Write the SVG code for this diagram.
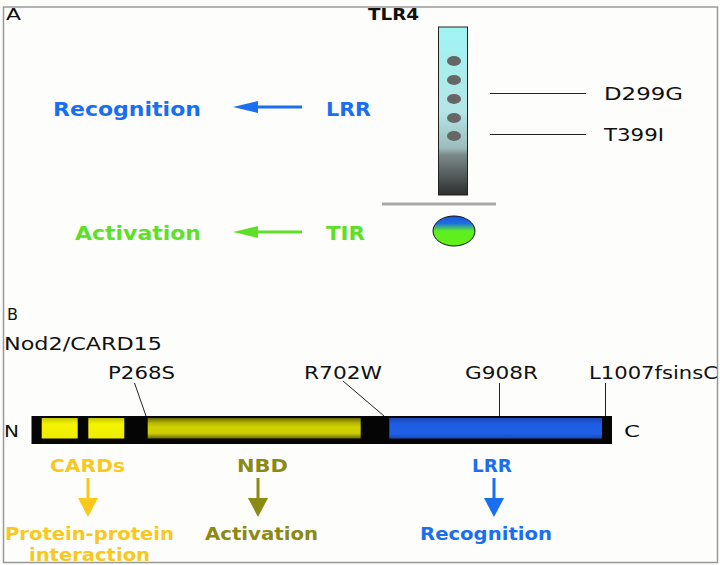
<svg xmlns="http://www.w3.org/2000/svg" width="720" height="565" viewBox="0 0 720 565">
<defs>
<style>
.t{font-family:"DejaVu Sans","Liberation Sans",sans-serif;fill:#111}
.b{font-family:"DejaVu Sans","Liberation Sans",sans-serif;font-weight:bold}
.lead{stroke:#222;stroke-width:1;fill:none}
.blue{fill:#1a6ef0}
.green{fill:#5ee02a}
.gold{fill:#f8c81c}
.olive{fill:#8a8a14}
</style>
<linearGradient id="col" x1="0" y1="0" x2="0" y2="1">
<stop offset="0" stop-color="#a0f4f4"/>
<stop offset="0.5" stop-color="#b4e6e6"/>
<stop offset="0.72" stop-color="#9cbcbc"/>
<stop offset="0.76" stop-color="#7c8a8a"/>
<stop offset="1" stop-color="#2e2e2e"/>
</linearGradient>
<linearGradient id="tir" x1="0" y1="0" x2="0" y2="1">
<stop offset="0" stop-color="#1a55e0"/>
<stop offset="0.25" stop-color="#1c70e0"/>
<stop offset="0.5" stop-color="#5cf020"/>
<stop offset="1" stop-color="#62f018"/>
</linearGradient>
<linearGradient id="nbd" x1="0" y1="0" x2="0" y2="1">
<stop offset="0" stop-color="#6a6a00"/>
<stop offset="0.25" stop-color="#b8b800"/>
<stop offset="0.45" stop-color="#d2d200"/>
<stop offset="0.75" stop-color="#cccc00"/>
<stop offset="1" stop-color="#6a6a00"/>
</linearGradient>
<linearGradient id="card" x1="0" y1="0" x2="0" y2="1">
<stop offset="0" stop-color="#c8c800"/>
<stop offset="0.3" stop-color="#f4f400"/>
<stop offset="1" stop-color="#ecec00"/>
</linearGradient>
<linearGradient id="lrr" x1="0" y1="0" x2="0" y2="1">
<stop offset="0" stop-color="#1a48b8"/>
<stop offset="0.35" stop-color="#1f5fe6"/>
<stop offset="0.75" stop-color="#1f5fe6"/>
<stop offset="1" stop-color="#1a4ab8"/>
</linearGradient>
<marker id="ahBlue" markerUnits="userSpaceOnUse" viewBox="0 0 25 12" markerWidth="25" markerHeight="12" refX="0" refY="6" orient="auto"><path d="M0,0L25,6L0,12z" fill="#1a6ef0"/></marker>
<marker id="ahGreen" markerUnits="userSpaceOnUse" viewBox="0 0 25 12" markerWidth="25" markerHeight="12" refX="0" refY="6" orient="auto"><path d="M0,0L25,6L0,12z" fill="#5ee02a"/></marker>
<marker id="dGold" markerUnits="userSpaceOnUse" viewBox="0 0 19 20" markerWidth="19" markerHeight="20" refX="0" refY="10" orient="auto"><path d="M0,0L19,10L0,20z" fill="#f8c81c"/></marker>
<marker id="dOlive" markerUnits="userSpaceOnUse" viewBox="0 0 19 20" markerWidth="19" markerHeight="20" refX="0" refY="10" orient="auto"><path d="M0,0L19,10L0,20z" fill="#8a8a14"/></marker>
<marker id="dBlue" markerUnits="userSpaceOnUse" viewBox="0 0 19 20" markerWidth="19" markerHeight="20" refX="0" refY="10" orient="auto"><path d="M0,0L19,10L0,20z" fill="#1a6ef0"/></marker>
</defs>
<rect x="0" y="0" width="720" height="565" fill="#fdfdfb"/>
<rect x="3.5" y="7" width="714" height="555.5" fill="none" stroke="#999" stroke-width="1.5"/>

<g id="panelA">
<text class="t" x="6" y="20" font-size="16" textLength="15" lengthAdjust="spacingAndGlyphs">A</text>
<g id="tlr4">
<text class="b" x="368" y="20" font-size="16" fill="#111" textLength="51" lengthAdjust="spacingAndGlyphs">TLR4</text>
<rect x="438.5" y="27" width="29" height="168" fill="url(#col)" stroke="#222" stroke-width="1"/>
<g fill="#666">
<ellipse cx="454" cy="61" rx="7" ry="5"/>
<ellipse cx="454" cy="80" rx="7" ry="5"/>
<ellipse cx="454" cy="99" rx="7" ry="5"/>
<ellipse cx="454" cy="118" rx="7" ry="5"/>
<ellipse cx="454" cy="136" rx="7" ry="5"/>
</g>
<line x1="382" y1="204" x2="496" y2="204" stroke="#aaa" stroke-width="3"/>
</g>
<g id="tir-domain">
<ellipse cx="454" cy="231" rx="21" ry="15" fill="url(#tir)" stroke="#111" stroke-width="1"/>
</g>
<g id="mutA">
<text class="t" x="604" y="100" font-size="18" textLength="79" lengthAdjust="spacingAndGlyphs">D299G</text>
<text class="t" x="604" y="141" font-size="18" textLength="60" lengthAdjust="spacingAndGlyphs">T399I</text>
</g>
<g id="lrrA">
<text class="b blue" x="326" y="116" font-size="20" textLength="45" lengthAdjust="spacingAndGlyphs">LRR</text>
<text class="b blue" x="53" y="116" font-size="20" textLength="148" lengthAdjust="spacingAndGlyphs">Recognition</text>
</g>
<g id="tirA">
<text class="b green" x="326" y="240" font-size="20" textLength="39" lengthAdjust="spacingAndGlyphs">TIR</text>
<text class="b green" x="75" y="240" font-size="20" textLength="126" lengthAdjust="spacingAndGlyphs">Activation</text>
</g>
</g>

<g id="panelB">
<text class="t" x="7" y="320" font-size="16" textLength="11" lengthAdjust="spacingAndGlyphs">B</text>
<text class="t" x="4" y="350" font-size="17" textLength="158" lengthAdjust="spacingAndGlyphs">Nod2/CARD15</text>
<g id="nod2bar">
<rect x="31.5" y="416" width="580.5" height="28" fill="#050505"/>
<rect x="41.7" y="418" width="36" height="20.5" fill="url(#card)"/>
<rect x="88.3" y="418" width="36" height="20.5" fill="url(#card)"/>
<rect x="147.7" y="418" width="213" height="20.5" fill="url(#nbd)"/>
<rect x="389.3" y="418" width="212.7" height="20.5" fill="url(#lrr)"/>
<text class="t" x="4" y="437" font-size="16" textLength="15" lengthAdjust="spacingAndGlyphs">N</text>
<text class="t" x="624" y="437" font-size="16" textLength="16" lengthAdjust="spacingAndGlyphs">C</text>
</g>
<g id="mutB">
<text class="t" x="108" y="379" font-size="18" textLength="67" lengthAdjust="spacingAndGlyphs">P268S</text>
<text class="t" x="304" y="379" font-size="18" textLength="78" lengthAdjust="spacingAndGlyphs">R702W</text>
<text class="t" x="465" y="379" font-size="18" textLength="73" lengthAdjust="spacingAndGlyphs">G908R</text>
<text class="t" x="589" y="379" font-size="18" textLength="129" lengthAdjust="spacingAndGlyphs">L1007fsinsC</text>
</g>
<g id="cards">
<text class="b gold" x="50" y="472" font-size="18" textLength="75" lengthAdjust="spacingAndGlyphs">CARDs</text>
<text class="b gold" x="5" y="540" font-size="18" textLength="169" lengthAdjust="spacingAndGlyphs">Protein-protein</text>
<text class="b gold" x="29" y="561" font-size="18" textLength="121" lengthAdjust="spacingAndGlyphs">interaction</text>
</g>
<g id="nbd-domain">
<text class="b olive" x="237" y="472" font-size="18" textLength="51" lengthAdjust="spacingAndGlyphs">NBD</text>
<text class="b olive" x="205" y="540" font-size="18" textLength="113" lengthAdjust="spacingAndGlyphs">Activation</text>
</g>
<g id="lrrB">
<text class="b blue" x="472" y="472" font-size="18" textLength="40" lengthAdjust="spacingAndGlyphs">LRR</text>
<text class="b blue" x="420" y="540" font-size="18" textLength="132" lengthAdjust="spacingAndGlyphs">Recognition</text>
</g>
</g>

<g id="connectors">
<line class="lead" x1="490" y1="93.5" x2="586" y2="93.5"/>
<line class="lead" x1="490" y1="134.5" x2="586" y2="134.5"/>
<line x1="302" y1="107" x2="258" y2="107" stroke="#1a6ef0" stroke-width="3" marker-end="url(#ahBlue)"/>
<line x1="302" y1="232" x2="258" y2="232" stroke="#5ee02a" stroke-width="3" marker-end="url(#ahGreen)"/>
<line class="lead" x1="134.5" y1="383" x2="146" y2="416"/>
<line class="lead" x1="343" y1="381" x2="384" y2="416"/>
<line class="lead" x1="499.5" y1="383" x2="499.5" y2="416"/>
<line class="lead" x1="605.5" y1="383" x2="605.5" y2="416"/>
<line x1="88" y1="478" x2="88" y2="498" stroke="#f8c81c" stroke-width="3" marker-end="url(#dGold)"/>
<line x1="258" y1="478" x2="258" y2="498" stroke="#8a8a14" stroke-width="3" marker-end="url(#dOlive)"/>
<line x1="494" y1="478" x2="494" y2="498" stroke="#1a6ef0" stroke-width="3" marker-end="url(#dBlue)"/>
</g>
</svg>
